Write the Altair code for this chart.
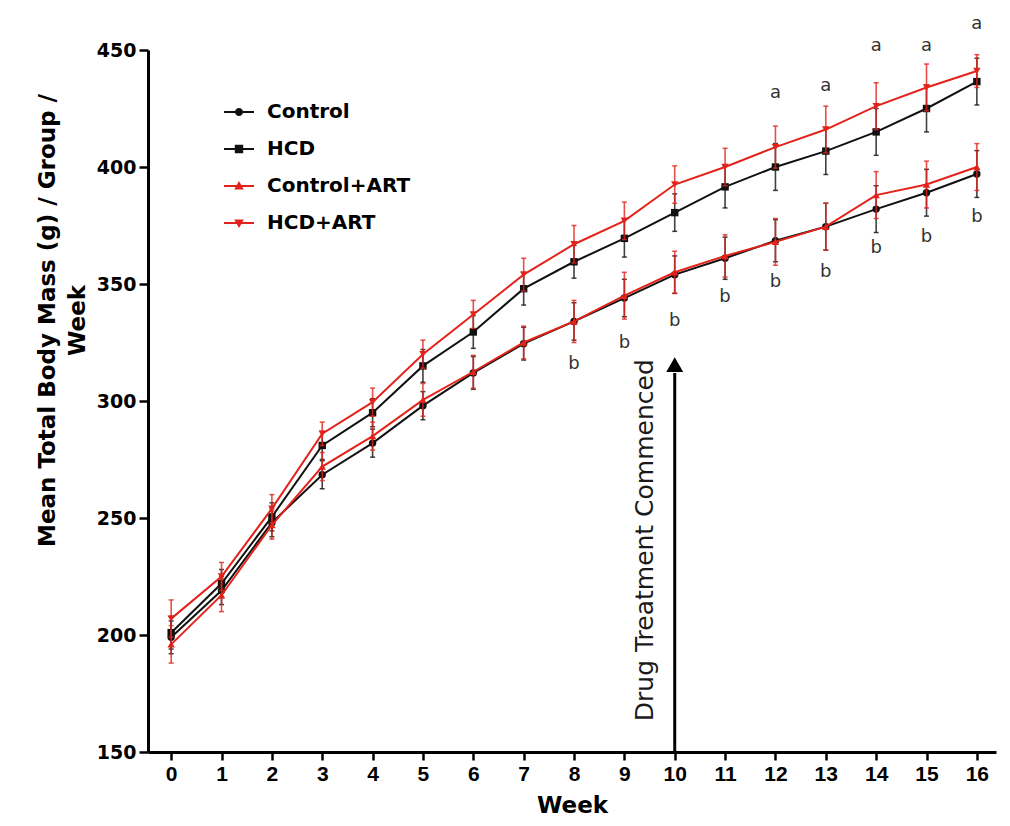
import altair as alt
import pandas as pd

# ---------------- data ----------------
weeks = list(range(17))
series_names = ["Control", "HCD", "Control+ART", "HCD+ART"]

control_mean = [199, 219, 248, 268.5, 282, 298, 312, 324.5, 334, 344, 354, 361, 368.5, 374.5, 382, 389, 397]
hcd_mean = [201, 222, 250.5, 281, 295, 315, 329.5, 348, 359.5, 369.5, 380.5, 391.5, 400, 406.8, 415, 425, 436.5]
control_art_mean = [196, 217, 247, 272, 285, 300.5, 312.5, 325, 334, 345, 355, 362, 368, 374.5, 388, 392.5, 400]
hcd_art_mean = [207, 225, 254, 286, 299.5, 320, 337, 354, 367, 377, 392.5, 400, 408.5, 416, 426, 434, 441]

control_se = [7, 6, 6, 6, 6, 6, 7, 7, 8, 8, 8, 9, 9, 10, 10, 10, 10]
hcd_se = [7, 6, 6, 6, 6, 7, 7, 7, 7, 8, 8, 9, 10, 10, 10, 10, 10]
control_art_se = [8, 7, 6, 6, 6, 7, 7, 7, 9, 10, 9, 9, 10, 10, 10, 10, 10]
hcd_art_se = [8, 6, 6, 5, 6, 6, 6, 7, 8, 8, 8, 8, 9, 10, 10, 10, 7]

a_weeks = [12, 13, 14, 15, 16]
a_vals = [431.5, 434.5, 451.5, 451.5, 461]
a_labels = ["a", "a", "a", "a", "a"]

b_weeks = [8, 9, 10, 11, 12, 13, 14, 15, 16]
b_vals = [316, 325, 334, 344.5, 351, 355, 365.5, 370, 378.5]
b_labels = ["b"] * 9

arrow_week = [10]
arrow_base = [150]
arrow_top = [312]
arrow_head = [315.5]

drug_label = ["Drug Treatment Commenced"]
drug_week = [9.41]
drug_val = [240.5]

y_ticks = [150, 200, 250, 300, 350, 400, 450]

# ---------------- styling ----------------
BLACK = "#111111"
RED = "#e3231b"
series_color = {"Control": BLACK, "HCD": BLACK, "Control+ART": RED, "HCD+ART": RED}
series_shape = {"Control": "circle", "HCD": "square",
                "Control+ART": "triangle-up", "HCD+ART": "triangle-down"}
legend_paths = [
    "M-1,-0.07H1V0.07H-1Z M0.27,0A0.27,0.27,0,1,1,-0.27,0A0.27,0.27,0,1,1,0.27,0Z",
    "M-1,-0.07H1V0.07H-1Z M-0.28,-0.28H0.28V0.28H-0.28Z",
    "M-1,-0.07H1V0.07H-1Z M0,-0.34L0.32,0.24H-0.32Z",
    "M-1,-0.07H1V0.07H-1Z M0,0.34L-0.32,-0.24H0.32Z",
]

means = {"Control": control_mean, "HCD": hcd_mean,
         "Control+ART": control_art_mean, "HCD+ART": hcd_art_mean}
ses = {"Control": control_se, "HCD": hcd_se,
       "Control+ART": control_art_se, "HCD+ART": hcd_art_se}

rows = []
for s in series_names:
    for w, m, e in zip(weeks, means[s], ses[s]):
        rows.append({"series": s, "week": w, "mass": m, "lo": m - e, "hi": m + e})
df = pd.DataFrame(rows)

x_scale = alt.Scale(domain=[-0.46, 16.38], nice=False, zero=False)
y_scale = alt.Scale(domain=[150, 450], nice=False, zero=False)

x_axis = alt.Axis(
    values=weeks, title="Week", labelAngle=0, labelOverlap=False,
    labelFont="Liberation Sans", labelFontWeight="bold", labelFontSize=21,
    labelColor="black", labelPadding=3,
    tickSize=8, tickWidth=2.5, tickColor="black",
    domainColor="black", domainWidth=3, grid=False,
    titleFont="DejaVu Sans", titleFontWeight="bold", titleFontSize=23,
    titleColor="black", titleBaseline="alphabetic", titleY=60,
)
y_axis = alt.Axis(
    values=y_ticks, title=["Mean Total Body Mass (g) / Group /", "Week"],
    labelFont="DejaVu Sans", labelFontWeight="bold", labelFontSize=19,
    labelColor="black", labelPadding=3,
    tickSize=9, tickWidth=2.5, tickColor="black",
    domainColor="black", domainWidth=3, grid=False,
    titleFont="DejaVu Sans", titleFontWeight="bold", titleFontSize=23,
    titleColor="black", titleAngle=270, titleAlign="center",
    titleBaseline="middle", titleLineHeight=30, titleX=-101, titleY=270,
)


def X(field="week"):
    return alt.X(f"{field}:Q", scale=x_scale, axis=x_axis)


def Y(field):
    return alt.Y(f"{field}:Q", scale=y_scale, axis=y_axis)


base = alt.Chart(df)
layers = []
for s in series_names:
    c = series_color[s]
    sub = base.transform_filter(alt.datum.series == s)
    layers.append(sub.mark_rule(color=c, strokeWidth=1.6, opacity=0.8).encode(
        x=X(), y=Y("lo"), y2="hi:Q"))
    layers.append(sub.mark_tick(color=c, orient="horizontal", size=5, thickness=1.5, opacity=0.8).encode(
        x=X(), y=Y("lo")))
    layers.append(sub.mark_tick(color=c, orient="horizontal", size=5, thickness=1.5, opacity=0.8).encode(
        x=X(), y=Y("hi")))
    layers.append(sub.mark_line(color=c, strokeWidth=2).encode(x=X(), y=Y("mass")))
    layers.append(sub.mark_point(color=c, filled=True, opacity=1, size=55,
                                 shape=series_shape[s]).encode(x=X(), y=Y("mass")))

legend = alt.Legend(
    orient="none", legendX=76, legendY=47, title=None, padding=0,
    symbolSize=900, symbolStrokeWidth=0, symbolOpacity=1,
    labelFont="DejaVu Sans", labelFontWeight="bold", labelFontSize=20,
    labelColor="black", labelOffset=13, labelLimit=400, rowPadding=12,
)
legend_layer = base.transform_filter("datum.week < -100").mark_point(
    filled=True, opacity=1).encode(
    x=X(), y=Y("mass"),
    fill=alt.Fill("series:N", scale=alt.Scale(domain=series_names,
                  range=[series_color[s] for s in series_names]), legend=legend),
    shape=alt.Shape("series:N", scale=alt.Scale(domain=series_names, range=legend_paths),
                    legend=legend),
)
layers.append(legend_layer)

a_df = pd.DataFrame({"week": a_weeks, "val": a_vals, "lab": a_labels})
b_df = pd.DataFrame({"week": b_weeks, "val": b_vals, "lab": b_labels})
for d in (a_df, b_df):
    layers.append(alt.Chart(d).mark_text(font="DejaVu Sans", fontSize=18, color="#333333",
                                         baseline="middle").encode(
        x=X(), y=Y("val"), text="lab:N"))

arrow_df = pd.DataFrame({"week": arrow_week, "base": arrow_base, "top": arrow_top,
                         "head": arrow_head})
layers.append(alt.Chart(arrow_df).mark_rule(color="black", strokeWidth=3).encode(
    x=X(), y=Y("base"), y2="top:Q"))
layers.append(alt.Chart(arrow_df).mark_point(shape="triangle-up", filled=True, color="black",
                                             opacity=1, size=289).encode(x=X(), y=Y("head")))

drug_df = pd.DataFrame({"week": drug_week, "val": drug_val, "lab": drug_label})
layers.append(alt.Chart(drug_df).mark_text(font="DejaVu Sans", fontSize=25, angle=270,
                                           color="#1a1a1a", baseline="middle").encode(
    x=X(), y=Y("val"), text="lab:N"))

chart = alt.layer(*layers).properties(
    width=848, height=702,
    autosize=alt.AutoSizeParams(type="none"),
    padding={"left": 140, "top": 42, "right": 6, "bottom": 66},
    background="white",
).configure_view(stroke=None)

chart.save("out.html", embed_options={"renderer": "svg", "actions": False})
